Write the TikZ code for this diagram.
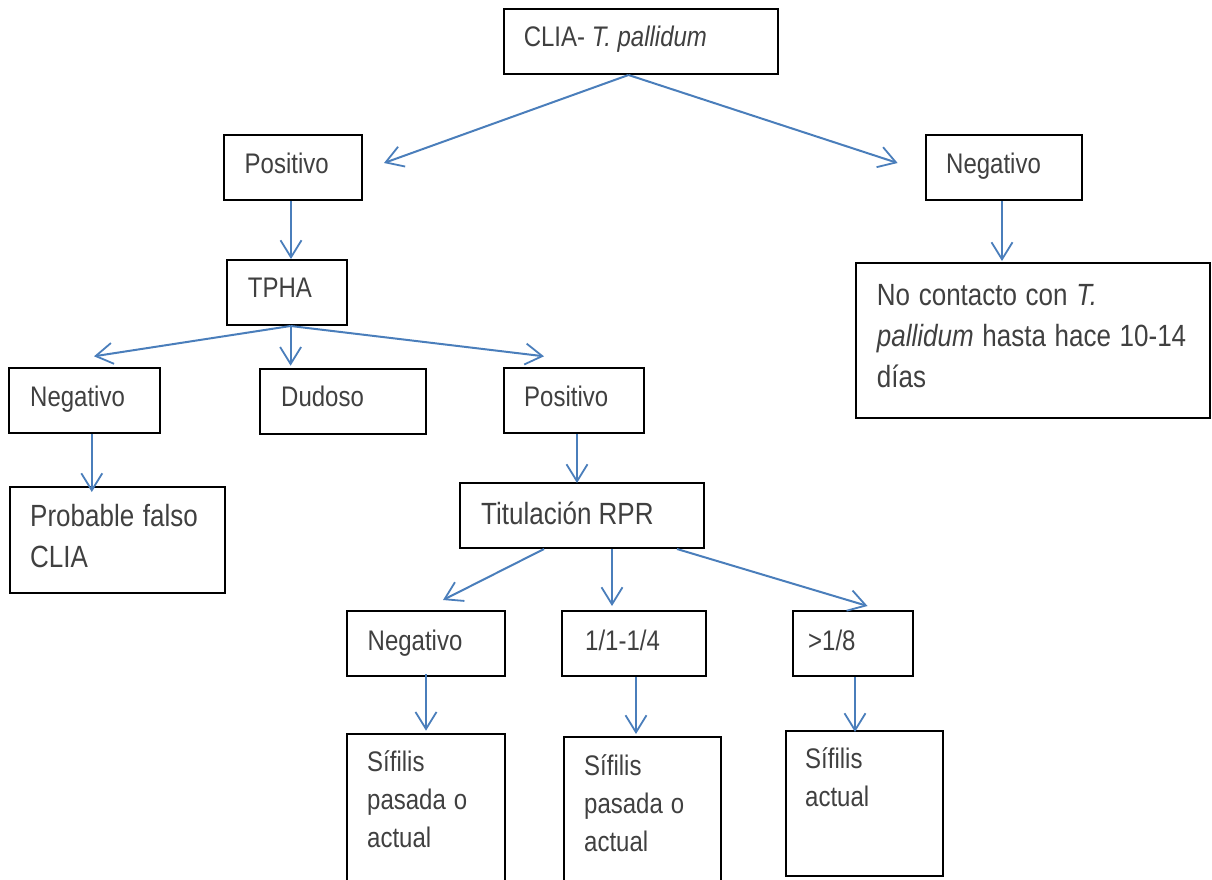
\documentclass[tikz,border=0pt]{standalone}
\usepackage{fontspec}
\setmainfont{Liberation Sans}
\usetikzlibrary{arrows.meta,calc}
\definecolor{arrowblue}{RGB}{74,126,187}
\definecolor{txtgray}{RGB}{64,64,64}
\newcommand\vs[1]{\scalebox{1}[1.18]{#1}}
\begin{document}
\begin{tikzpicture}[x=1pt,y=-1pt,
  box/.style={draw=black, line width=2pt, rectangle, inner sep=0pt},
  lbl/.style={anchor=base west, inner sep=0pt, text=txtgray, font=\fontsize{24}{38}\selectfont},
  lblbig/.style={lbl, font=\fontsize{26}{41}\selectfont},
  conn/.style={draw=arrowblue, line width=2pt, -{Straight Barb[length=17pt,width=21pt,line width=1.8pt]}},
]
\useasboundingbox (0,0) rectangle (1212,880);

% boxes
\node[box, minimum width=274pt, minimum height=65pt] (clia) at (641,41.5) {};
\node[box, minimum width=138pt, minimum height=65pt] (posT) at (293,167.5) {};
\node[box, minimum width=156pt, minimum height=65pt] (negT) at (1004,167.5) {};
\node[box, minimum width=120pt, minimum height=65pt] (tpha) at (287,292.5) {};
\node[box, minimum width=354pt, minimum height=155pt] (nocont) at (1033,340.5) {};
\node[box, minimum width=151pt, minimum height=65pt] (negL) at (84.5,400.5) {};
\node[box, minimum width=166pt, minimum height=65pt] (dud) at (343,401.5) {};
\node[box, minimum width=140pt, minimum height=65pt] (posM) at (574,400.5) {};
\node[box, minimum width=215pt, minimum height=106pt] (prob) at (117.5,540) {};
\node[box, minimum width=244pt, minimum height=65pt] (tit) at (582,515.5) {};
\node[box, minimum width=158pt, minimum height=65pt] (negB) at (426,643.5) {};
\node[box, minimum width=144pt, minimum height=65pt] (r14) at (634,643.5) {};
\node[box, minimum width=120pt, minimum height=65pt] (r18) at (853,643.5) {};
\node[box, minimum width=158pt, minimum height=152pt] (sif1) at (426,810) {};
\node[box, minimum width=157pt, minimum height=149pt] (sif2) at (642.5,811.5) {};
\node[box, minimum width=157pt, minimum height=145pt] (sifA) at (864.5,803.5) {};

% connectors
\draw[conn] ($(clia.south)+(-12.5,0)$) -- ($(posT.east)+(21,-4.5)$);
\draw[conn] ($(clia.south)+(-12.5,0)$) -- ($(negT.west)+(-27.4,-4.5)$);
\draw[conn] ($(posT.south)+(-2,0)$) -- ($(tpha.north)+(4,0)$);
\draw[conn] ($(negT.south)+(-2,0)$) -- ($(negT.south |- nocont.north)+(-2,-1)$);
\draw[conn] ($(tpha.south)+(3.6,0)$) -- ($(negL.north)+(9.5,-10.7)$);
\draw[conn] ($(tpha.south)+(3.6,0)$) -- ($(tpha.south |- dud.north)+(3.6,-2.3)$);
\draw[conn] ($(tpha.south)+(3.6,0)$) -- ($(posM.north)+(-30,-10.7)$);
\draw[conn] ($(negL.south)+(7.3,0)$) -- ($(negL.south |- prob.north)+(7.3,6)$);
\draw[conn] ($(posM.south)+(3,0)$) -- ($(posM.south |- tit.north)+(3,1)$);
\draw[conn] ($(tit.south)+(-38,0)$) -- ($(negB.north)+(17,-10)$);
\draw[conn] ($(tit.south)+(30,0)$) -- ($(r14.north)+(-22,-4)$);
\draw[conn] ($(tit.south)+(95,0)$) -- ($(r18.north)+(14.5,-4)$);
\draw[conn] ($(negB.south)+(0,-3)$) -- ($(sif1.north)+(0,-2.3)$);
\draw[conn] ($(r14.south)+(2,0)$) -- ($(r14.south |- sif2.north)+(2,-2)$);
\draw[conn] ($(r18.south)+(2,0)$) -- ($(r18.south |- sifA.north)+(2,2)$);

% texts
\node[lbl] (t-clia) at (523.6,47) {\vs{CLIA- \textit{T. pallidum}}};
\node[lbl] (t-posT) at (244.5,173) {\vs{Positivo}};
\node[lbl] (t-negT) at (946,173) {\vs{Negativo}};
\node[lbl] (t-tpha) at (247.7,297.7) {\vs{TPHA}};
\node[lblbig, text width=330pt, align=left] (t-nocont) at (876.7,305)
  {\vs{No contacto con \textit{T.}}\\ \vs{\textit{pallidum} hasta hace 10-14}\\ \vs{días}};
\node[lbl] (t-negL) at (30,406) {\vs{Negativo}};
\node[lbl] (t-dud) at (281,406) {\vs{Dudoso}};
\node[lbl] (t-posM) at (524,406) {\vs{Positivo}};
\node[lblbig, text width=200pt, align=left] (t-prob) at (30,526.7)
  {\vs{Probable falso}\\ \vs{CLIA}};
\node[lblbig] (t-tit) at (481,524) {\vs{Titulación RPR}};
\node[lbl] (t-negB) at (367.5,650) {\vs{Negativo}};
\node[lbl] (t-r14) at (585,650) {\vs{1/1-1/4}};
\node[lbl] (t-r18) at (808,650) {\vs{>1/8}};
\node[lbl, text width=140pt, align=left] (t-sif1) at (367,771.7)
  {\vs{Sífilis}\\ \vs{pasada o}\\ \vs{actual}};
\node[lbl, text width=140pt, align=left] (t-sif2) at (584,775)
  {\vs{Sífilis}\\ \vs{pasada o}\\ \vs{actual}};
\node[lbl, text width=140pt, align=left] (t-sifA) at (805,768)
  {\vs{Sífilis}\\ \vs{actual}};
\end{tikzpicture}
\end{document}
